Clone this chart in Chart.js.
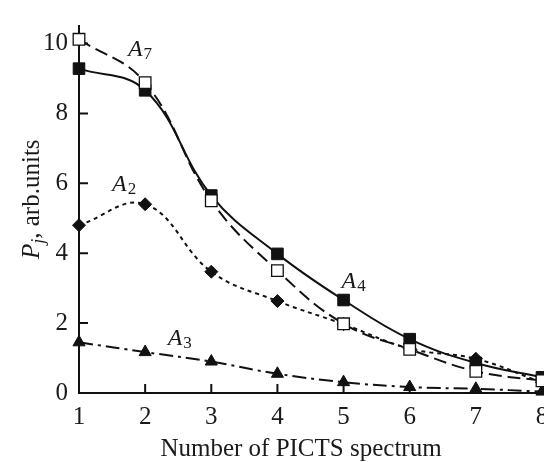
<!DOCTYPE html>
<html>
<head>
<meta charset="utf-8">
<script src="https://cdn.jsdelivr.net/npm/chart.js@4/dist/chart.umd.min.js"></script>
<style>
    html, body { margin: 0; padding: 0; background: #fff; overflow: hidden; }
    canvas { display: block; }
</style>
</head>
<body>
<canvas id="chart" width="572" height="462"></canvas>
<script>
// ============================================
// PICTS spectrum amplitudes P_j
// ============================================

const spectra = [1, 2, 3, 4, 5, 6, 7, 8];
const yTicks = [0, 2, 4, 6, 8, 10];

const a7 = [10.12, 8.88, 5.5, 3.5, 1.98, 1.25, 0.62, 0.35];
const a4 = [9.28, 8.66, 5.65, 3.98, 2.66, 1.54, 0.86, 0.45];
const a2 = [4.8, 5.4, 3.47, 2.63, 1.97, 1.27, 0.98, 0.3];
const a3 = [1.45, 1.17, 0.9, 0.55, 0.31, 0.17, 0.12, 0.04];

// curve labels, anchored in data units
const labelNames = ['7', '2', '4', '3'];
const labelX = [1.74, 1.5, 4.97, 2.34];
const labelY = [9.64, 5.77, 3.01, 1.37];

const SERIF = '"Liberation Serif", "DejaVu Serif", serif';

const toPoints = vals => vals.map((v, i) => ({ x: spectra[i], y: v }));

/**
 * Inward tick marks, axis titles and curve labels
 */
const decor = {
    id: 'decor',
    beforeDatasetsDraw(chart) {
        const { ctx, scales: { x, y }, chartArea: area } = chart;
        ctx.save();
        ctx.strokeStyle = '#111';
        ctx.lineWidth = 2;
        ctx.beginPath();
        spectra.slice(1, -1).forEach(v => {
            const px = x.getPixelForValue(v);
            ctx.moveTo(px, area.bottom);
            ctx.lineTo(px, area.bottom - 9);
        });
        yTicks.slice(1).forEach(v => {
            const py = y.getPixelForValue(v);
            ctx.moveTo(area.left, py);
            ctx.lineTo(area.left + 9, py);
        });
        ctx.stroke();
        ctx.restore();
    },
    afterDraw(chart) {
        const { ctx, scales: { x, y } } = chart;
        ctx.save();
        ctx.fillStyle = '#1a1a1a';
        ctx.textBaseline = 'alphabetic';

        // curve labels A_n
        labelNames.forEach((n, i) => {
            const px = x.getPixelForValue(labelX[i]);
            const py = y.getPixelForValue(labelY[i]);
            ctx.font = 'italic 24px ' + SERIF;
            ctx.textAlign = 'left';
            ctx.fillText('A', px, py);
            const w = ctx.measureText('A').width;
            ctx.font = '17px ' + SERIF;
            ctx.fillText(n, px + w + 1, py + 3);
        });

        // x title
        ctx.font = '25px ' + SERIF;
        ctx.textAlign = 'center';
        ctx.fillText('Number of PICTS spectrum', 301, 456);

        // y title, rotated
        ctx.translate(39, 259);
        ctx.rotate(-Math.PI / 2);
        ctx.textAlign = 'left';
        ctx.font = 'italic 25px ' + SERIF;
        ctx.fillText('P', 0, 0);
        let off = ctx.measureText('P').width;
        ctx.font = 'italic 18px ' + SERIF;
        ctx.fillText('j', off, 5);
        off += ctx.measureText('j').width;
        ctx.font = '25px ' + SERIF;
        ctx.fillText(', arb.units', off, 0);
        ctx.restore();
    }
};

const ctx = document.getElementById('chart').getContext('2d');
new Chart(ctx, {
    type: 'line',
    data: {
        datasets: [
            {
                label: 'A7',
                data: toPoints(a7),
                borderColor: '#111',
                borderWidth: 2,
                borderDash: [13, 6],
                pointStyle: 'rect',
                pointRadius: 8.2,
                pointBackgroundColor: '#fff',
                pointBorderColor: '#111',
                pointBorderWidth: 1.3,
                tension: 0.4
            },
            {
                label: 'A4',
                data: toPoints(a4),
                borderColor: '#111',
                borderWidth: 2,
                pointStyle: 'rect',
                pointRadius: 8.2,
                pointBackgroundColor: '#111',
                pointBorderColor: '#111',
                pointBorderWidth: 1,
                tension: 0.4
            },
            {
                label: 'A2',
                data: toPoints(a2),
                borderColor: '#111',
                borderWidth: 2,
                borderDash: [4, 4],
                pointStyle: 'rectRot',
                pointRadius: 6.5,
                pointBackgroundColor: '#111',
                pointBorderColor: '#111',
                pointBorderWidth: 1,
                tension: 0.4
            },
            {
                label: 'A3',
                data: toPoints(a3),
                borderColor: '#111',
                borderWidth: 2,
                borderDash: [14, 5, 3, 5],
                pointStyle: 'triangle',
                pointRadius: 7,
                pointBackgroundColor: '#111',
                pointBorderColor: '#111',
                pointBorderWidth: 1,
                tension: 0.4
            }
        ]
    },
    options: {
        responsive: false,
        animation: false,
        clip: false,
        layout: {
            autoPadding: false,
            padding: { top: 9, right: 30, left: 0, bottom: 0 }
        },
        scales: {
            x: {
                type: 'linear',
                min: 1,
                max: 8,
                afterFit: s => { s.height = 69; },
                afterBuildTicks: s => { s.ticks = spectra.map(v => ({ value: v })); },
                grid: { display: false, drawTicks: false },
                border: { display: true, color: '#111', width: 2 },
                ticks: {
                    color: '#1a1a1a',
                    padding: 9,
                    font: { family: SERIF, size: 25 }
                }
            },
            y: {
                type: 'linear',
                min: 0,
                max: 10.5,
                afterFit: s => { s.width = 79; },
                afterBuildTicks: s => { s.ticks = yTicks.map(v => ({ value: v })); },
                grid: { display: false, drawTicks: false },
                border: { display: true, color: '#111', width: 2 },
                ticks: {
                    color: '#1a1a1a',
                    padding: 11,
                    font: { family: SERIF, size: 25 }
                }
            }
        },
        plugins: {
            legend: { display: false },
            tooltip: { enabled: false }
        }
    },
    plugins: [decor]
});
</script>
</body>
</html>
